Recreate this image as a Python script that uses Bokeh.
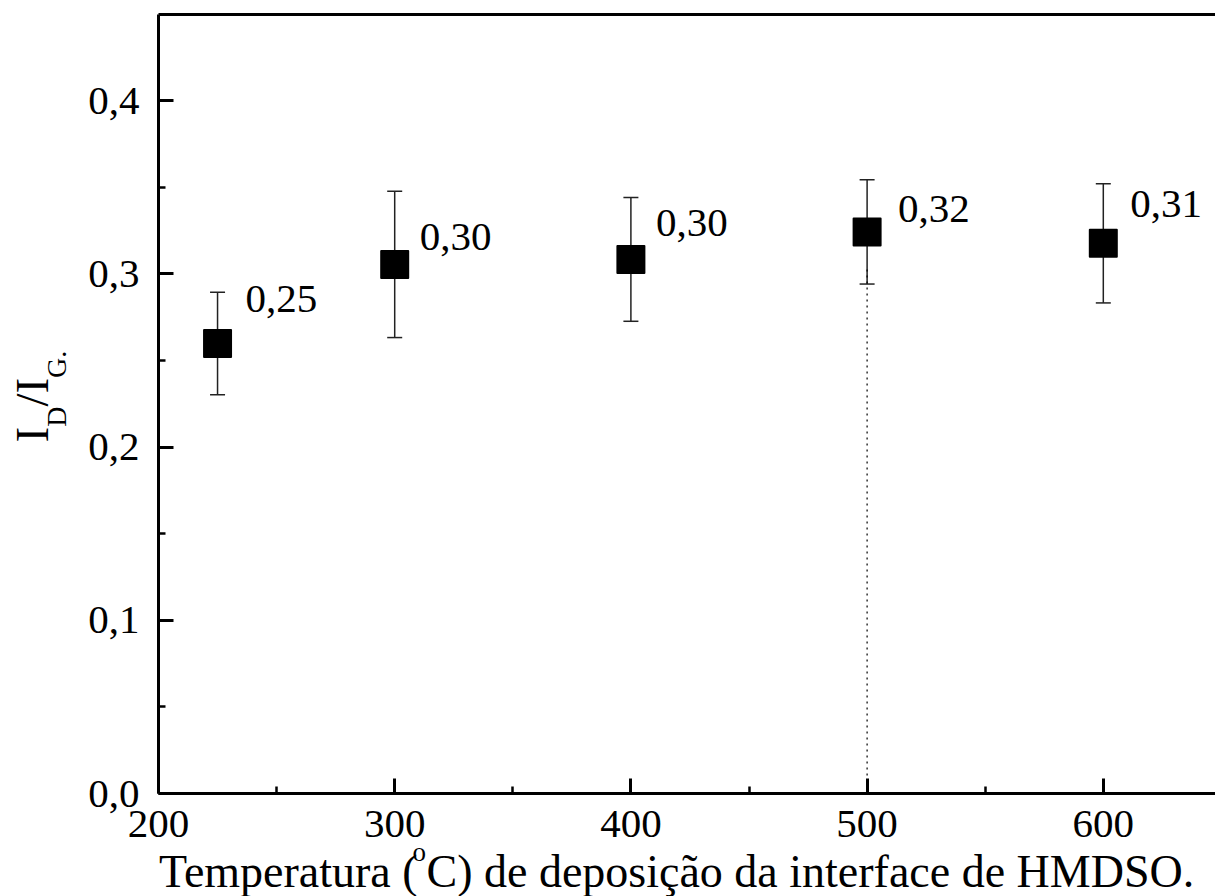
import math

from bokeh.core.properties import value
from bokeh.embed import file_html
from bokeh.layouts import column, row
from bokeh.models import (ColumnDataSource, CustomJSTickFormatter, FixedTicker,
                          LinearAxis, TeeHead, Whisker)
from bokeh.plotting import figure
from bokeh.resources import INLINE

# I_D/I_G ratio versus deposition temperature of the HMDSO interface
temperatures = [225, 300, 400, 500, 600]
ratio_id_ig = [0.2598, 0.3054, 0.3083, 0.3242, 0.3176]
ratio_err = [0.0296, 0.0422, 0.0357, 0.0301, 0.0344]

x_ticks = [200, 300, 400, 500, 600]
x_minor = [250, 350, 450, 550]
y_ticks = [0.0, 0.1, 0.2, 0.3, 0.4]
y_minor = [0.05, 0.15, 0.25, 0.35]

# dotted drop line at 500 °C
guide_x = 500
guide_top = 0.304

# value annotations: truncated to two decimals, decimal comma
value_labels = [("%.2f" % (math.floor(v * 100 + 1e-9) / 100)).replace(".", ",")
                for v in ratio_id_ig]
# pixel offsets of each annotation's baseline from its marker (right, up)
label_dx = [28, 25, 25, 31, 27]
label_dy = [31, 14, 23, 9, 26]

SERIF = "Liberation Serif"
# the rendered alphabetic baseline sits this fraction of the font size
# below the anchor; anchors are raised by it
BASELINE_SHIFT = 0.33

# page layout (pixels)
TOTAL_W, TOTAL_H = 1215, 896
YTITLE_W = 80
MAIN_H = 855
FRAME_LEFT = 158
FRAME_TOP = 14
FRAME_BOTTOM = 793
MAIN_W = TOTAL_W - YTITLE_W
XTITLE_OVERLAP = 20          # the x-title strip slides up under the tick labels
XTITLE_H = TOTAL_H - MAIN_H + XTITLE_OVERLAP

LABEL_SIZE = 41

source = ColumnDataSource(dict(
    x=temperatures,
    y=ratio_id_ig,
    lower=[v - e for v, e in zip(ratio_id_ig, ratio_err)],
    upper=[v + e for v, e in zip(ratio_id_ig, ratio_err)],
    label=value_labels,
    dx=label_dx,
    dy=[-(d + BASELINE_SHIFT * LABEL_SIZE) for d in label_dy],
))

p = figure(width=MAIN_W, height=MAIN_H,
           x_range=(200, 647.5), y_range=(0, 0.4497),
           output_backend="svg", toolbar_location=None,
           min_border_left=FRAME_LEFT - YTITLE_W, min_border_right=0,
           min_border_top=FRAME_TOP, min_border_bottom=MAIN_H - FRAME_BOTTOM,
           background_fill_color="white", border_fill_color="white",
           outline_line_color=None)
p.grid.visible = False

# axes: ticks pointing inwards, comma decimals
for ax in (p.xaxis[0], p.yaxis[0]):
    ax.axis_line_width = 3
    ax.axis_line_color = "black"
    ax.major_tick_in = 15
    ax.major_tick_out = 0
    ax.minor_tick_in = 7
    ax.minor_tick_out = 0
    ax.major_tick_line_width = 3
    ax.minor_tick_line_width = 2.5
    ax.major_tick_line_color = "black"
    ax.minor_tick_line_color = "black"
    ax.major_label_text_font = SERIF
    ax.major_label_text_font_size = "41px"
    ax.major_label_text_color = "black"

p.xaxis[0].ticker = FixedTicker(ticks=x_ticks, minor_ticks=x_minor)
p.xaxis[0].formatter = CustomJSTickFormatter(code="return tick.toFixed(0);")
p.xaxis[0].major_label_standoff = 17

p.yaxis[0].ticker = FixedTicker(ticks=y_ticks, minor_ticks=y_minor)
p.yaxis[0].formatter = CustomJSTickFormatter(code="return tick.toFixed(1).replace('.', ',');")
p.yaxis[0].major_label_standoff = 19

top_axis = LinearAxis(ticker=FixedTicker(ticks=[]), axis_line_width=3,
                      axis_line_color="black", major_tick_in=0, major_tick_out=0,
                      minor_tick_in=0, minor_tick_out=0,
                      major_label_text_font_size="0px")
p.add_layout(top_axis, "above")

# drop line
p.line([guide_x, guide_x], [0, guide_top], line_dash="2 4", line_width=1.2,
       line_color="black")

# error bars
p.add_layout(Whisker(source=source, base="x", lower="lower", upper="upper",
                     dimension="height", line_width=1.5, line_color="#222222",
                     upper_head=TeeHead(size=15, line_width=1.5, line_color="#222222"),
                     lower_head=TeeHead(size=15, line_width=1.5, line_color="#222222")))

# markers
p.scatter(x="x", y="y", source=source, marker="square", size=27,
          fill_color="black", line_color="black", line_width=2, line_join="round")

# value annotations
p.text(x="x", y="y", text="label", x_offset="dx", y_offset="dy", source=source,
       text_font=value(SERIF), text_font_size=f"{LABEL_SIZE}px", text_color="black",
       text_align="left", text_baseline="alphabetic")


def title_panel(w, h, x_range, y_range, left=0, right=0, top=0, bottom=0,
                fill="white", margin=None):
    """A blank strip whose data coordinates are page pixels."""
    f = figure(width=w, height=h, x_range=x_range, y_range=y_range,
               output_backend="svg", toolbar_location=None,
               x_axis_location=None, y_axis_location=None,
               min_border_left=left, min_border_right=right,
               min_border_top=top, min_border_bottom=bottom,
               outline_line_color=None,
               background_fill_color=fill, border_fill_color=fill)
    if margin is not None:
        f.margin = margin
    f.grid.visible = False
    return f


def put(f, text, x, y, size, angle=0.0):
    """Text whose baseline starts at (x, y); size in px."""
    s = BASELINE_SHIFT * size
    f.text(x=[x - math.sin(angle) * s], y=[y + math.cos(angle) * s], text=[text],
           angle=angle, text_font=value(SERIF), text_font_size=f"{size}px",
           text_color="black", text_align="left", text_baseline="alphabetic")


# y-axis title: I_D / I_G.  (reads bottom to top); y counted up from page bottom
yt = title_panel(YTITLE_W, TOTAL_H, (0, YTITLE_W),
                 (TOTAL_H - FRAME_BOTTOM, TOTAL_H - FRAME_TOP),
                 top=FRAME_TOP, bottom=TOTAL_H - FRAME_BOTTOM)
rot = math.pi / 2
put(yt, "I", 47, TOTAL_H - 442, 47, rot)
put(yt, "D", 65, TOTAL_H - 426.3, 28, rot)
put(yt, "/I", 47, TOTAL_H - 406.1, 47, rot)
put(yt, "G.", 65, TOTAL_H - 377.4, 28, rot)

# x-axis title with superscript o; x in page pixels, y up from page bottom.
# Transparent, so the tick labels above stay visible where it overlaps.
xt = title_panel(MAIN_W, XTITLE_H, (FRAME_LEFT, TOTAL_W), (0, XTITLE_H),
                 left=FRAME_LEFT - YTITLE_W, fill=None,
                 margin=(-XTITLE_OVERLAP, 0, 0, 0))
base = TOTAL_H - 886
put(xt, "Temperatura (", 158.5, base, 46)
put(xt, "o", 412, base + 26, 27)
put(xt, "C) de deposição da interface de HMDSO.", 426, base, 46)

layout = row(yt, column(p, xt, spacing=0), spacing=0)

open("out.html", "w").write(file_html(layout, INLINE))
